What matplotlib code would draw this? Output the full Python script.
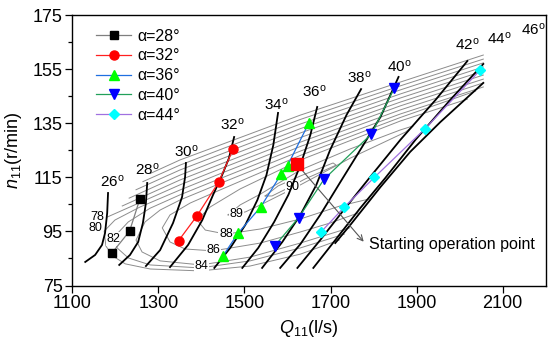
import matplotlib
matplotlib.use("Agg")
import matplotlib.pyplot as plt

plt.rcParams['font.family'] = ['Liberation Sans', 'DejaVu Sans']
plt.rcParams['mathtext.fontset'] = 'custom'
plt.rcParams['mathtext.rm'] = 'Liberation Sans'
plt.rcParams['mathtext.it'] = 'Liberation Sans:italic'
plt.rcParams['mathtext.bf'] = 'Liberation Sans:bold'

# ---------------- data ----------------
# measured operating points for each guide-vane opening alpha
q28 = [1192, 1233, 1257]
n28 = [87.0, 95.1, 107.0]
q32 = [1347, 1389, 1440, 1474]
n32 = [91.6, 100.6, 113.2, 125.6]
q36 = [1450, 1485, 1538, 1585, 1600, 1650]
n36 = [85.9, 94.3, 104.1, 116.1, 119.3, 135.2]
q40 = [1570, 1626, 1685, 1795, 1848]
n40 = [89.6, 100.1, 114.3, 131.0, 147.9]
q44 = [1678, 1732, 1802, 1920, 2048]
n44 = [94.8, 104.0, 115.0, 133.0, 154.7]
series_labels = ['α=28°', 'α=32°', 'α=36°', 'α=40°', 'α=44°']

start_q, start_n = 1621, 120.0
arrow_tip_q, arrow_tip_n = 1777, 91.2

# guide vane opening lines (hill chart)
open_labels = ['26', '28', '30', '32', '34', '36', '38', '40', '42', '44', '46']
open_q = [
    [1130, 1153, 1169, 1176, 1181, 1183],
    [1209, 1234, 1253, 1264, 1271, 1274],
    [1271, 1304, 1334, 1355, 1362, 1364],
    [1327, 1369, 1402, 1427, 1448, 1464, 1476],
    [1430, 1467, 1502, 1530, 1551, 1567, 1578],
    [1495, 1532, 1569, 1602, 1630, 1653, 1669],
    [1541, 1588, 1630, 1667, 1699, 1737, 1771],
    [1583, 1630, 1676, 1723, 1769, 1816, 1858],
    [1623, 1676, 1734, 1792, 1862, 1944, 2018],
    [1660, 1711, 1769, 1827, 1897, 1978, 2055],
    [1711, 1746, 1816, 1885, 1955, 2055],
]
open_n = [
    [83.7, 86.3, 90.0, 94.4, 101.8, 109.2],
    [82.6, 86.3, 91.1, 98.1, 105.5, 112.9],
    [82.2, 88.1, 98.1, 107.7, 115.1, 120.3],
    [81.8, 90.0, 99.2, 108.5, 115.8, 122.1, 129.9],
    [81.5, 88.9, 97.4, 106.6, 115.8, 126.9, 138.8],
    [81.5, 88.9, 98.5, 108.5, 119.5, 130.6, 141.0],
    [81.5, 91.1, 101.1, 112.2, 125.1, 138.0, 147.6],
    [81.5, 90.3, 101.1, 113.3, 125.1, 137.3, 152.1],
    [81.5, 91.8, 103.6, 115.1, 128.8, 143.6, 158.0],
    [81.5, 91.8, 103.6, 114.7, 128.8, 143.6, 156.9],
    [90.7, 97.4, 111.4, 124.4, 135.4, 149.9],
]
open_label_q = [1192, 1274, 1364, 1471, 1575, 1663, 1767, 1860, 2017, 2093, 2172]
open_label_n = [113.4, 118.0, 124.5, 134.3, 141.7, 146.6, 151.8, 156.1, 163.9, 166.4, 169.7]

# efficiency iso-lines
eff_q = [
    [1281, 1350, 1443, 1630, 1862, 2055],
    [1264, 1350, 1443, 1630, 1862, 2055],
    [1248, 1350, 1443, 1630, 1862, 2055],
    [1232, 1350, 1443, 1630, 1862, 2055],
    [1216, 1350, 1443, 1630, 1862, 2055],
    [1181, 1350, 1443, 1630, 1862, 2055],
    [2055, 1862, 1630, 1443, 1350, 1257, 1199, 1174, 1178, 1194, 1223, 1281, 1397, 1513, 1630, 1720],
    [2055, 1862, 1630, 1443, 1350, 1281, 1230, 1197, 1204, 1230, 1281, 1397, 1513, 1630, 1732],
    [2055, 1862, 1630, 1443, 1350, 1304, 1269, 1248, 1262, 1304, 1399, 1513, 1630, 1744],
    [2037, 1862, 1630, 1443, 1374, 1327, 1309, 1327, 1362, 1427, 1537, 1630, 1699, 1764],
    [2018, 1862, 1630, 1490, 1420, 1390, 1409, 1457, 1537, 1630, 1722, 1790],
    [1462, 1490, 1537, 1630, 1746, 1862, 1892, 1874, 1746, 1630, 1541, 1502, 1462],
    [1548, 1578, 1630, 1676, 1706, 1713, 1688, 1641, 1606, 1564, 1548],
]
eff_n = [
    [116.4, 121.4, 126.9, 138.0, 150.2, 160.2],
    [113.4, 119.5, 125.2, 136.4, 148.8, 158.7],
    [110.4, 117.7, 123.4, 134.7, 147.3, 157.3],
    [107.3, 115.8, 121.6, 133.0, 145.8, 155.8],
    [104.4, 114.0, 119.8, 131.4, 144.3, 154.3],
    [100.3, 112.2, 118.1, 129.7, 142.8, 152.8],
    [151.3, 141.4, 128.0, 116.3, 110.3, 104.0, 99.2, 95.1, 89.6, 85.9, 83.0, 81.1, 80.4, 82.2, 86.6, 91.8],
    [149.9, 139.9, 126.4, 114.5, 108.5, 103.6, 98.5, 92.9, 88.9, 85.2, 82.6, 81.5, 84.1, 88.9, 94.0],
    [148.4, 138.4, 124.7, 112.7, 106.6, 102.9, 98.5, 91.8, 87.4, 84.1, 82.6, 85.5, 90.7, 96.3],
    [146.9, 137.1, 123.1, 110.3, 105.5, 101.1, 96.3, 91.1, 88.5, 87.8, 90.7, 94.8, 98.1, 101.8],
    [143.9, 135.8, 121.4, 110.7, 104.0, 99.2, 95.5, 94.0, 95.9, 99.6, 104.4, 107.0],
    [101.1, 104.8, 108.8, 117.7, 125.5, 132.5, 134.0, 131.7, 122.1, 112.2, 105.1, 102.2, 101.1],
    [108.1, 111.8, 115.5, 118.4, 120.3, 119.5, 117.7, 114.4, 111.4, 108.1, 108.1],
]
eff_labels = ['78', '80', '82', '84', '86', '88', '89', '90']
eff_label_q = [1157, 1153, 1195, 1401, 1428, 1457, 1482, 1611]
eff_label_n = [100.4, 96.1, 92.2, 82.2, 88.1, 94.0, 101.3, 111.5]
eff_label_box = [False, False, True, True, True, True, True, True]

x_ticks = [1100, 1300, 1500, 1700, 1900, 2100]
y_ticks = [75, 95, 115, 135, 155, 175]

# ---------------- figure ----------------
fig = plt.figure(figsize=(5.5, 3.53), dpi=100)
ax = fig.add_axes([0.1315, 0.1912, 0.8607, 0.7663])

for qs, ns in zip(eff_q, eff_n):
    ax.plot(qs, ns, color='#8c8c8c', lw=0.7, zorder=1)

for qs, ns in zip(open_q, open_n):
    ax.plot(qs, ns, color='black', lw=1.3, zorder=3)

for lab, q, n in zip(open_labels, open_label_q, open_label_n):
    ax.text(q, n, lab + r'$^{\mathrm{o}}$', fontsize=11, ha='center', va='center', zorder=6)

for lab, q, n, box in zip(eff_labels, eff_label_q, eff_label_n, eff_label_box):
    kw = {}
    if box:
        kw['bbox'] = dict(boxstyle='square,pad=0.05', fc='white', ec='none')
    ax.text(q, n, lab, fontsize=9, ha='center', va='center', zorder=2, **kw)

ax.plot(q28, n28, color='#7f7f7f', lw=0.9, marker='s', ms=5.5, mfc='black', mec='black', zorder=5, label=series_labels[0])
ax.plot(q32, n32, color='#ff2020', lw=0.9, marker='o', ms=6.5, mfc='red', mec='red', zorder=5, label=series_labels[1])
ax.plot(q36, n36, color='#1f6fe0', lw=0.9, marker='^', ms=7, mfc='#00ff00', mec='#00ff00', zorder=5, label=series_labels[2])
ax.plot(q40, n40, color='#21a05a', lw=0.9, marker='v', ms=7, mfc='#0000ff', mec='#0000ff', zorder=5, label=series_labels[3])
ax.plot(q44, n44, color='#a070e0', lw=0.9, marker='D', ms=5.5, mfc='#00ffff', mec='#00ffff', zorder=5, label=series_labels[4])

ax.plot([start_q], [start_n], marker='s', ms=8, color='red', zorder=7, ls='none')
ax.annotate('', xy=(arrow_tip_q, arrow_tip_n), xytext=(start_q, start_n),
            arrowprops=dict(arrowstyle='->', color='#555555', lw=0.8, shrinkA=4, shrinkB=0), zorder=6)
ax.text(arrow_tip_q + 13, arrow_tip_n - 0.9, 'Starting operation point', fontsize=11.5, ha='left', va='center')

ax.set_xlim(1100, 2200)
ax.set_ylim(75, 175)
ax.set_xticks(x_ticks)
ax.set_yticks(y_ticks)
ax.set_yticks([85, 105, 125, 145, 165], minor=True)
ax.tick_params(axis='both', which='major', direction='out', length=5, width=0.9, labelsize=13, pad=2)
ax.tick_params(axis='y', which='minor', direction='out', length=3, width=0.9)
ax.tick_params(top=False, right=False)
for s in ax.spines.values():
    s.set_linewidth(1.0)

ax.set_xlabel(r'$Q_{11}$(l/s)', fontsize=13, labelpad=4)
ax.set_ylabel(r'$n_{11}$(r/min)', fontsize=13, labelpad=6)

leg = ax.legend(loc='upper left', bbox_to_anchor=(0.05, 0.95), frameon=False, fontsize=11.5,
                handlelength=2.2, handletextpad=0.4, labelspacing=0.3, borderpad=0, borderaxespad=0)

fig.savefig('out.png', dpi=100)
